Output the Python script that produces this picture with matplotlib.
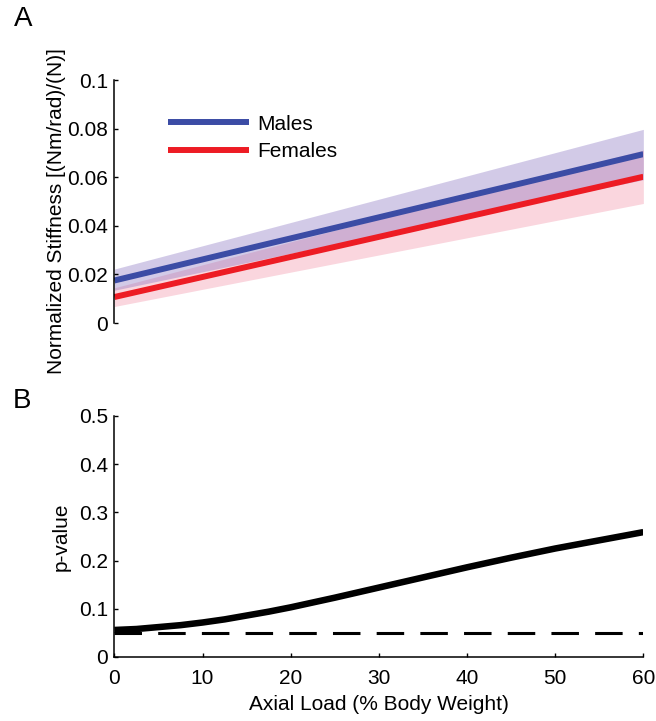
import matplotlib
matplotlib.use("Agg")
import matplotlib.pyplot as plt

plt.rcParams['font.family'] = ['Liberation Sans', 'DejaVu Sans']

# panel A: fitted stiffness vs load, with confidence bands (read at the ends)
load_fit = [0, 60]
male_fit = [0.0175, 0.0695]
male_lo = [0.0135, 0.0590]
male_hi = [0.0222, 0.0797]
female_fit = [0.0107, 0.0602]
female_lo = [0.0068, 0.0492]
female_hi = [0.0145, 0.0712]

# panel B: p-value of the sex difference
load_p = [0, 2.5, 5, 7.5, 10, 12.5, 15, 17.5, 20, 25, 30, 35, 40, 45, 50, 55, 60]
p_value = [0.056, 0.058, 0.062, 0.066, 0.0715, 0.078, 0.086, 0.094, 0.103,
           0.123, 0.144, 0.165, 0.186, 0.206, 0.225, 0.242, 0.259]
alpha_level = 0.05

x_ticks = [0, 10, 20, 30, 40, 50, 60]
a_ticks = [0, 0.02, 0.04, 0.06, 0.08, 0.1]
a_tick_labels = ['0', '0.02', '0.04', '0.06', '0.08', '0.1']
b_ticks = [0, 0.1, 0.2, 0.3, 0.4, 0.5]
b_tick_labels = ['0', '0.1', '0.2', '0.3', '0.4', '0.5']

blue = '#3B4CA5'
red = '#ED1C24'

fig = plt.figure(figsize=(6.56, 7.21), dpi=100)
ax1 = fig.add_axes([0.1744, 0.552, 0.8063, 0.337])
ax2 = fig.add_axes([0.1744, 0.0888, 0.8063, 0.3343])

# --- A ---
ax1.fill_between(load_fit, female_lo, female_hi, color='#F18AA1', alpha=0.35, lw=0)
ax1.fill_between(load_fit, male_lo, male_hi, color='#7F68BD', alpha=0.35, lw=0)
ax1.plot(load_fit, male_fit, color=blue, lw=4.3, solid_capstyle='butt', label='Males')
ax1.plot(load_fit, female_fit, color=red, lw=4.3, solid_capstyle='butt', label='Females')
ax1.set_xlim(0, 60)
ax1.set_ylim(0, 0.1)
ax1.set_yticks(a_ticks)
ax1.set_yticklabels(a_tick_labels)
ax1.set_xticks([])
for s in ['top', 'right', 'bottom']:
    ax1.spines[s].set_visible(False)
ax1.set_ylabel('Normalized Stiffness [(Nm/rad)/(N)]', fontsize=15, va='center')
ax1.yaxis.set_label_coords(-0.1088, 0.459)
ax1.legend(loc='upper left', bbox_to_anchor=(0.1016, 0.857), frameon=False,
           fontsize=15, handlelength=3.9, handletextpad=0.38, labelspacing=0.4,
           borderpad=0, borderaxespad=0)

# --- B ---
ax2.plot(load_p, p_value, color='black', lw=4.7, solid_capstyle='butt')
ax2.plot([0, 60], [alpha_level, alpha_level], color='black', lw=2.2,
         linestyle=(0, (9, 5.3)))
ax2.set_xlim(0, 60)
ax2.set_ylim(0, 0.5)
ax2.set_xticks(x_ticks)
ax2.set_yticks(b_ticks)
ax2.set_yticklabels(b_tick_labels)
for s in ['top', 'right']:
    ax2.spines[s].set_visible(False)
ax2.set_ylabel('p-value', fontsize=15, va='center')
ax2.yaxis.set_label_coords(-0.1012, 0.5)
ax2.set_xlabel('Axial Load (% Body Weight)', fontsize=15, va='center')
ax2.xaxis.set_label_coords(0.5, -0.199)

for ax in [ax1, ax2]:
    for s in ax.spines.values():
        s.set_linewidth(1.1)
    ax.tick_params(direction='in', length=3, width=1, labelsize=15)
    ax.tick_params(axis='y', pad=4.7)
    ax.tick_params(axis='x', pad=8.5)
    ax.patch.set_visible(False)

fig.text(0.035, 0.973, 'A', fontsize=20, ha='center', va='center')
fig.text(0.034, 0.4438, 'B', fontsize=20, ha='center', va='center')

fig.savefig('out.png', dpi=100)
